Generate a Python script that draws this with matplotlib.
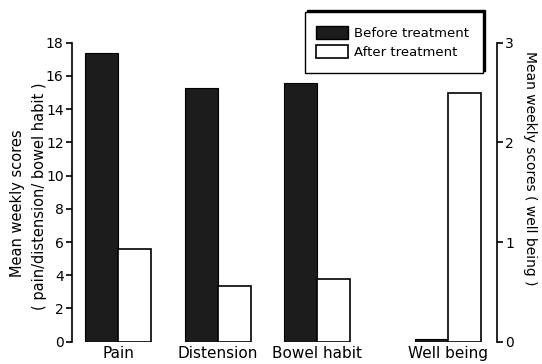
import matplotlib
matplotlib.use("Agg")
import matplotlib.pyplot as plt
from matplotlib.patches import Rectangle

# datos
categorias = ["Pain", "Distension", "Bowel habit"]
antes = [17.4, 15.25, 15.55]
despues = [5.6, 3.35, 3.8]
# bienestar (eje derecho)
bienestar_antes = 0.03
bienestar_despues = 2.5
ticks_izq = [0, 2, 4, 6, 8, 10, 12, 14, 16, 18]
ticks_der = [0, 1, 2, 3]

plt.rcParams['font.family'] = ['DejaVu Sans']
fig = plt.figure(figsize=(5.42, 3.64), dpi=100)
ax = fig.add_axes([72 / 542, 1 - 341.7 / 364, (497 - 72) / 542, 299 / 364])
ax2 = ax.twinx()

oscuro = '#1c1c1c'
ancho = 0.33
pos = [0, 1, 1.99]
pos_bien = 3.3

# barras de la escala izquierda
for i, p in enumerate(pos):
    ax.bar(p - ancho / 2, antes[i], ancho, color=oscuro, edgecolor='black', linewidth=0.8)
    ax.bar(p + ancho / 2, despues[i], ancho, color='white', edgecolor='black', linewidth=1.2)

# barras de bienestar (escala derecha)
ax2.bar(pos_bien - ancho / 2, bienestar_antes, ancho, color=oscuro, edgecolor='black', linewidth=0.8)
ax2.bar(pos_bien + ancho / 2, bienestar_despues, ancho, color='white', edgecolor='black', linewidth=1.2)

ax.set_xlim(-0.46, 3.79)
ax.set_ylim(0, 18)
ax2.set_ylim(0, 3)

for a in (ax, ax2):
    a.spines['top'].set_visible(False)
    a.spines['bottom'].set_visible(False)
ax.spines['right'].set_visible(False)
ax2.spines['left'].set_visible(False)
ax.spines['left'].set_bounds(0, 18)
ax2.spines['right'].set_bounds(0, 3)
ax.spines['left'].set_linewidth(1.2)
ax2.spines['right'].set_linewidth(1.2)

ax.set_yticks(ticks_izq)
ax2.set_yticks(ticks_der)
ax.tick_params(axis='y', length=4, width=1.2, labelsize=10, pad=2)
ax2.tick_params(axis='y', length=4, width=1.2, labelsize=10, pad=2)

ax.set_xticks(pos + [pos_bien])
ax.set_xticklabels(categorias + ["Well being"], fontsize=11)
ax.tick_params(axis='x', length=0, pad=3)

# etiquetas de los ejes
fig.text(18 / 542, 1 - 203 / 364, "Mean weekly scores", rotation=90,
         ha='center', va='center', fontsize=10.5)
fig.text(40 / 542, 1 - 196 / 364, "( pain/distension/ bowel habit )", rotation=90,
         ha='center', va='center', fontsize=10.5)
fig.text(530 / 542, 1 - 168 / 364, "Mean weekly scores ( well being )", rotation=-90,
         ha='center', va='center', fontsize=10)

# leyenda con sombra arriba y a la derecha
x0, y0 = 305 / 542, 1 - 73 / 364
w, h = 178 / 542, 61 / 364
fig.patches.append(Rectangle((x0 + 2 / 542, y0 + 2 / 364), w, h, transform=fig.transFigure,
                             facecolor='black', edgecolor='black', zorder=4))
fig.patches.append(Rectangle((x0, y0), w, h, transform=fig.transFigure,
                             facecolor='white', edgecolor='black', linewidth=1, zorder=4.5))
h1 = Rectangle((0, 0), 1, 1, facecolor=oscuro, edgecolor='black')
h2 = Rectangle((0, 0), 1, 1, facecolor='white', edgecolor='black', linewidth=1.2)
fig.legend([h1, h2], ["Before treatment", "After treatment"], loc='upper left',
           bbox_to_anchor=(316 / 542, 1 - 26 / 364), frameon=False, borderpad=0,
           borderaxespad=0, fontsize=9.5, handlelength=2.45, handleheight=1.1,
           handletextpad=0.4, labelspacing=0.4)

fig.savefig("out.png", dpi=100)
